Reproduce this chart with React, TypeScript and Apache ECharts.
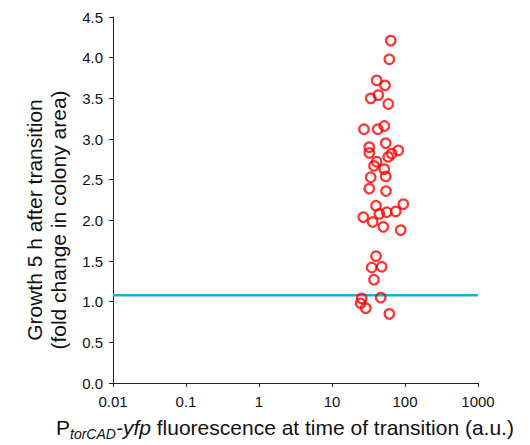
import React, { useEffect, useRef } from "react";
import * as echarts from "echarts";

// fluorescence (a.u.) and growth (fold change) for each colony
const fluorescence = [
  63.7, 61.0, 40.9, 53.2, 43.1, 33.9, 59.0,
  27.4, 42.3, 52.0, 54.4, 32.4, 32.4, 80.9, 65.8, 59.0, 40.9, 37.6, 52.0, 33.9, 54.4,
  32.4, 54.9, 40.1, 94.8, 26.8, 44.5, 56.1, 74.6, 36.1, 50.4, 87.3,
  40.1, 35.0, 47.9, 37.6, 25.5, 24.7, 29.0, 46.5, 61.0,
];
const growth = [
  4.21, 3.98, 3.72, 3.66, 3.54, 3.5, 3.43,
  3.12, 3.12, 3.16, 2.95, 2.9, 2.83, 2.86, 2.82, 2.78, 2.72, 2.67, 2.63, 2.53, 2.54,
  2.39, 2.36, 2.18, 2.2, 2.04, 2.08, 2.1, 2.11, 1.98, 1.92, 1.88,
  1.56, 1.42, 1.43, 1.27, 1.04, 0.98, 0.92, 1.05, 0.85,
];
const thresholdX = [0.01, 1000];
const thresholdY = [1.08, 1.08];
const xTickLabels = ["0.01", "0.1", "1", "10", "100", "1000"];
const yTitle = "Growth 5 h after transition\n(fold change in colony area)";

export default function App() {
  const ref = useRef<HTMLDivElement>(null);
  useEffect(() => {
    document.body.style.margin = "0";
    if (!ref.current) return;
    const chart = echarts.init(ref.current, undefined, { renderer: "svg" });
    const font = "'Liberation Sans', Arial, sans-serif";
    chart.setOption({
      animation: false,
      textStyle: { fontFamily: font },
      grid: { left: 113, right: 52, top: 17, bottom: 62 },
      xAxis: {
        type: "log",
        logBase: 10,
        min: 0.01,
        max: 1000,
        axisLine: { lineStyle: { color: "#222", width: 1 } },
        axisTick: { show: true, length: 4, lineStyle: { color: "#222" } },
        minorTick: { show: false },
        splitLine: { show: false },
        axisLabel: {
          color: "#111",
          fontSize: 15,
          fontFamily: font,
          margin: 11,
          formatter: (v: number) => {
            const i = Math.round(Math.log10(v)) + 2;
            return xTickLabels[i] ?? String(v);
          },
        },
      },
      yAxis: {
        type: "value",
        min: 0,
        max: 4.5,
        interval: 0.5,
        axisLine: { show: true, lineStyle: { color: "#222", width: 1 } },
        axisTick: { show: true, length: 4, lineStyle: { color: "#222" } },
        splitLine: { show: false },
        axisLabel: {
          color: "#111",
          fontSize: 15,
          fontFamily: font,
          margin: 10,
          formatter: (v: number) => v.toFixed(1),
        },
      },
      graphic: [
        {
          type: "text",
          x: 46,
          y: 220,
          rotation: Math.PI / 2,
          style: {
            text: yTitle,
            fontSize: 21,
            lineHeight: 24,
            fontFamily: font,
            fill: "#111",
            align: "center",
            verticalAlign: "middle",
          },
        },
        {
          type: "text",
          left: 56,
          top: 417,
          style: {
            text: "{n|P}{s|torCAD}{i|-yfp}{n| fluorescence at time of transition (a.u.)}",
            rich: {
              n: { fontSize: 21, fontFamily: font, fill: "#111" },
              s: { fontSize: 14, fontFamily: font, fontStyle: "italic", fill: "#111", padding: [12, 0, 0, 0] },
              i: { fontSize: 21, fontFamily: font, fontStyle: "italic", fill: "#111" },
            },
          },
        },
      ],
      series: [
        {
          type: "line",
          data: thresholdX.map((x, i) => [x, thresholdY[i]]),
          symbol: "none",
          lineStyle: { color: "#12ADE6", width: 2.5 },
          silent: true,
          z: 1,
        },
        {
          type: "scatter",
          data: fluorescence.map((x, i) => [x, growth[i]]),
          symbol: "circle",
          symbolSize: 9.5,
          itemStyle: { color: "rgba(255,255,255,0)", borderColor: "#FF0000", borderWidth: 2.2 },
          z: 2,
        },
      ],
    });
    return () => chart.dispose();
  }, []);
  return <div ref={ref} style={{ width: 530, height: 445 }} />;
}
